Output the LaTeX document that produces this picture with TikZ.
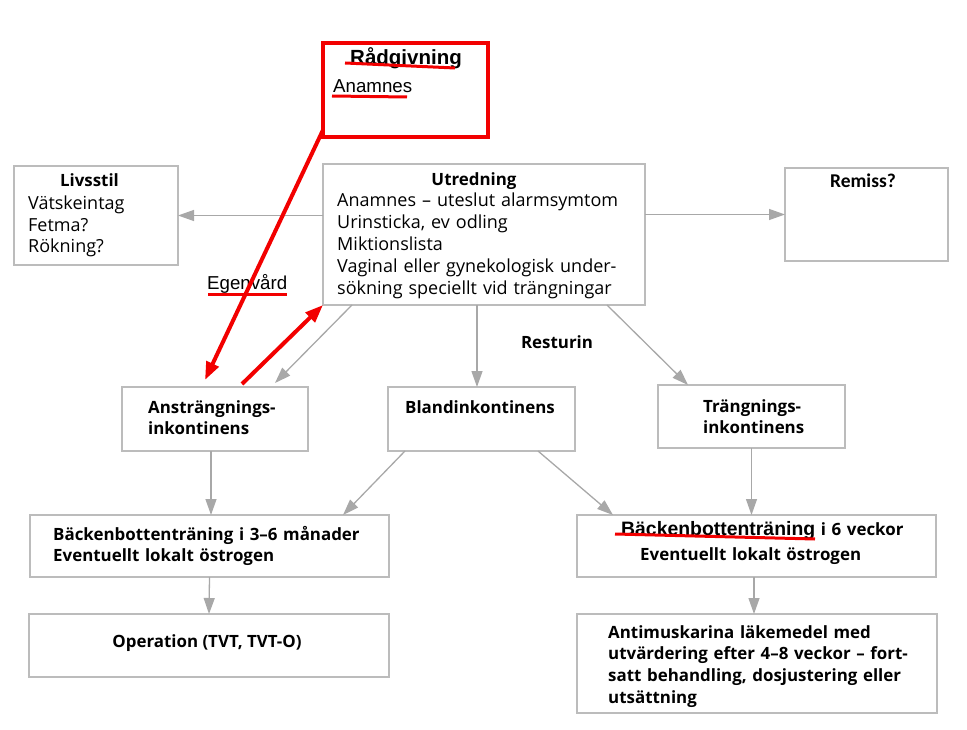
\documentclass[tikz,border=0pt]{standalone}
\usepackage{fontspec}
\setmainfont{Open Sans}
\newfontfamily\arialfont{Liberation Sans}
\newfontfamily\calibrifont{Carlito}
\usetikzlibrary{arrows.meta}
\definecolor{boxgray}{RGB}{188,188,188}
\definecolor{arrowgray}{RGB}{168,168,168}
\definecolor{markred}{RGB}{242,0,0}

\begin{document}
\begin{tikzpicture}[x=1pt,y=-1pt]
  \tikzstyle{box}=[draw=boxgray,line width=1.3pt,inner sep=0pt,outer sep=0pt]
  \tikzstyle{txt}=[inner sep=0pt,font=\fontsize{18}{22}\selectfont]
  \tikzstyle{btxt}=[inner sep=0pt,font=\bfseries\fontsize{16.9}{21.8}\selectfont]
  \tikzstyle{flow}=[draw=arrowgray,line width=1.3pt,-{Triangle[length=16pt,width=11pt]}]
  \tikzstyle{redline}=[draw=markred,line width=3pt]
  \tikzstyle{redarrow}=[draw=markred,line width=4pt,-{Triangle[length=18pt,width=13pt]}]
  \useasboundingbox (0,0) rectangle (967,730);

  % boxes
  \node[box,draw=markred,line width=3.5pt,minimum width=165pt,minimum height=94pt] (radg) at (405.5,90) {};
  \node[box,minimum width=164pt,minimum height=99pt] (livs) at (96,215.5) {};
  \node[box,minimum width=322pt,minimum height=141pt] (utr) at (484,234.5) {};
  \node[box,minimum width=163pt,minimum height=93pt] (remiss) at (866.5,214.5) {};
  \node[box,minimum width=186pt,minimum height=64pt] (anstr) at (215,419) {};
  \node[box,minimum width=187pt,minimum height=64pt] (bland) at (481.5,419) {};
  \node[box,minimum width=187pt,minimum height=63pt] (trang) at (751.5,416.5) {};
  \node[box,minimum width=359pt,minimum height=62pt] (backL) at (209.5,546) {};
  \node[box,minimum width=359pt,minimum height=62pt] (backR) at (756.5,546) {};
  \node[box,minimum width=360pt,minimum height=63pt] (oper) at (209,645.5) {};
  \node[box,minimum width=360pt,minimum height=99pt] (anti) at (757,663.5) {};

  % texts
  \node[inner sep=0pt,anchor=base,font=\arialfont\bfseries\fontsize{20.5}{24}\selectfont] (radgT) at (406,65) {Rådgivning};
  \node[inner sep=0pt,anchor=base west,font=\arialfont\fontsize{18.7}{22}\selectfont] (radgA) at (333,93) {Anamnes};
  \node[btxt,anchor=base] (livsT) at (89.5,187) {Livsstil};
  \node[txt,anchor=base west,text width=140pt,align=left,font=\fontsize{18}{21.5}\selectfont] (livsB) at (28,210) {Vätskeintag\\Fetma?\\Rökning?};
  \node[btxt,anchor=base] (utrT) at (474,186) {Utredning};
  \node[txt,anchor=base west,text width=300pt,align=left] (utrB) at (337,207) {Anamnes – uteslut alarmsymtom\\Urinsticka, ev odling\\Miktionslista\\Vaginal eller gynekologisk under-\\sökning speciellt vid trängningar};
  \node[inner sep=0pt,anchor=base,font=\calibrifont\bfseries\fontsize{19.5}{23}\selectfont] (remT) at (863,188) {Remiss?};
  \node[inner sep=0pt,anchor=base west,font=\arialfont\fontsize{18.7}{22}\selectfont] (egen) at (207,290) {Egenvård};
  \node[btxt,anchor=base] (rest) at (557,348) {Resturin};
  \node[btxt,anchor=base west,text width=170pt,align=left] (anstrT) at (148,413) {Ansträngnings-\\inkontinens};
  \node[btxt,anchor=base west,text width=170pt,align=left] (blandT) at (405,413) {Blandinkontinens};
  \node[btxt,anchor=base west,text width=140pt,align=left] (trangT) at (703,412) {Trängnings-\\inkontinens};
  \node[btxt,anchor=base west,text width=330pt,align=left] (backLT) at (53,540) {Bäckenbottenträning i 3–6 månader\\Eventuellt lokalt östrogen};
  \node[btxt,anchor=base west,text width=330pt,align=left] (backRT) at (621,535) {{\arialfont\fontsize{19.4}{21.5}\selectfont Bäckenbottenträning} i 6 veckor\\[4pt]\hspace*{19pt}Eventuellt lokalt östrogen};
  \node[btxt,anchor=base] (operT) at (207,647) {Operation (TVT, TVT-O)};
  \node[btxt,anchor=base west,text width=320pt,align=left] (antiT) at (608,638) {Antimuskarina läkemedel med\\utvärdering efter 4–8 veckor – fort-\\satt behandling, dosjustering eller\\utsättning};

  % grey connectors
  \draw[flow] (livs.east -| utr.west) -- (livs.east);
  \draw[flow] (remiss.west -| utr.east) -- (remiss.west);
  \draw[flow] ([xshift=29pt]utr.south west) -- ([xshift=153pt,yshift=4pt]anstr.north west);
  \draw[flow] ([xshift=-4.5pt]bland.north |- utr.south) -- ([xshift=-4.5pt]bland.north);
  \draw[flow] ([xshift=-38pt]utr.south east) -- ([xshift=30pt]trang.north west);
  \draw[flow] ([xshift=-4pt]anstr.south) -- ([xshift=-4pt]anstr.south |- backL.north);
  \draw[flow] ([xshift=17pt]bland.south west) -- ([xshift=-46pt]backL.north east);
  \draw[flow] ([xshift=-37pt]bland.south east) -- ([xshift=36pt]backR.north west);
  \draw[flow] (trang.south) -- (trang.south |- backR.north);
  \draw[flow] (backL.south) -- (oper.north);
  \draw[flow] ([xshift=-2.5pt]backR.south) -- ([xshift=-2.5pt]backR.south |- anti.north);

  % red marks
  \draw[redline] (345,63) -- (455,68);
  \draw[redline] (332,96) -- (407,97);
  \draw[redline] (208,295) -- (287,295);
  \draw[redline] (615,534) -- (815,539);
  \draw[redarrow] ([yshift=7pt]radg.south west) -- ([xshift=83pt,yshift=7pt]anstr.north west);
  \draw[redarrow] ([xshift=120pt,yshift=3pt]anstr.north west) -- (utr.south west);
\end{tikzpicture}
\end{document}
